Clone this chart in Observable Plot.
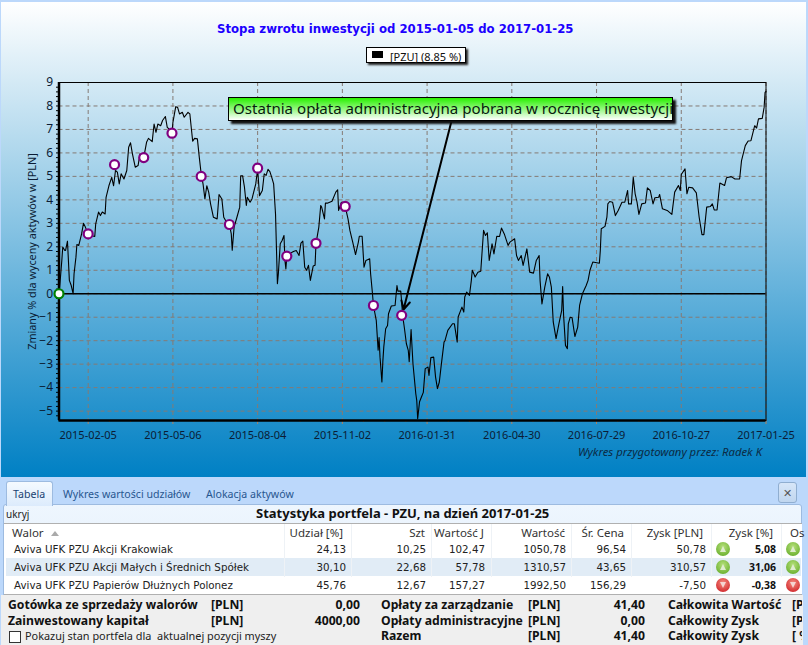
<!DOCTYPE html>
<html lang="pl">
<head>
<meta charset="utf-8">
<script src="https://cdn.jsdelivr.net/npm/d3@7"></script>
<script src="https://cdn.jsdelivr.net/npm/@observablehq/plot@0.6"></script>
<style>
html,body{margin:0;padding:0;width:808px;height:645px;overflow:hidden;background:#bcd8fb;}
#page{position:relative;width:808px;height:645px;overflow:hidden;font-family:"Noto Sans",sans-serif;}
#chart{position:absolute;left:1px;top:2px;width:805px;height:475px;overflow:hidden;background:linear-gradient(#ffffff 0,#0080c4 100%);}
#plotHost{position:absolute;left:-1px;top:-2px;width:808px;height:477px;}
#plotHost svg{display:block;background:transparent;overflow:visible;}
.t{position:absolute;white-space:pre;line-height:1;transform:translateY(-50%);z-index:3;}
.r{transform:translate(-100%,-50%);}
.box{position:absolute;box-sizing:border-box;}
</style>
</head>
<body>
<div id="page">
  <div id="chart"><div id="plotHost"></div></div>
</div>
<script>
// ---- chart data ----
const startDate = "2015-01-05";
const titleText = "Stopa zwrotu inwestycji od 2015-01-05 do 2017-01-25";
const legendText = "[PZU] (8.85 %)";
const yLabel = "Zmiany % dla wyceny aktywów w [PLN]";
const noteText = "Ostatnia opłata administracyjna pobrana w rocznicę inwestycji";
const creditText = "Wykres przygotowany przez: Radek K";
const xTickDates = ["2015-02-05","2015-05-06","2015-08-04","2015-11-02","2016-01-31","2016-04-30","2016-07-29","2016-10-27","2017-01-25"];
const yTicks = [-5,-4,-3,-2,-1,0,1,2,3,4,5,6,7,8,9];
// days since start date
const days = [0,1,3,4,6,7,9,10,11,13,15,16,18,19,21,24,26,28,31,34,38,39,42,44,46,49,50,53,56,58,60,62,64,66,69,72,74,76,78,81,84,86,90,93,95,99,101,103,105,108,110,113,115,117,120,121,124,126,128,131,133,137,139,141,142,144,147,149,151,153,155,157,159,161,164,168,170,173,175,178,181,183,184,186,189,192,193,195,197,199,200,203,205,209,211,213,216,218,220,222,
224,226,228,230,232,233,235,237,239,240,241,242,244,246,249,252,255,257,259,261,263,265,267,270,272,273,276,278,279,282,283,285,290,294,296,297,300,302,304,307,309,312,315,318,319,322,324,326,330,331,333,
334,337,339,340,341,343,344,345,347,349,350,353,357,359,360,363,364,365,
367,369,371,372,374,375,376,379,380,381,383,385,387,389,392,393,395,398,400,402,404,406,409,410,413,418,420,423,424,428,430,431,433,436,438,
439,441,442,445,448,451,453,455,457,460,462,465,468,470,473,477,479,484,486,488,491,493,497,500,504,507,510,
511,513,516,519,521,523,525,528,531,534,535,536,538,540,541,543,545,548,551,553,556,560,562,
564,567,574,575,576,580,582,583,585,588,591,594,598,601,604,605,608,610,612,614,616,619,623,625,628,631,633,637,638,641,646,651,654,658,660,661,665,667,669,673,677,680,683,685,688,692,694,696,699,702,707,709,714,718,723,725,729,732,735,739,741,743,747,749,750,751];
const returns = [0,0.43,1.42,1.99,1.85,1.85,2.24,1.42,0.57,0.35,0,0.85,1.56,2.1,2.06,2.55,3.0,2.84,2.55,2.48,2.44,2.98,3.48,3.33,3.48,3.4,4.11,4.6,4.96,4.6,5.25,5.18,4.68,5.11,4.89,5.25,6.24,6.43,5.96,5.39,5.46,5.96,5.8,6.45,6.62,6.48,7.23,6.88,7.23,7.16,7.38,7.55,7.09,7.02,6.84,7.3,7.97,7.94,7.66,7.73,7.52,7.73,7.66,6.88,6.5,6.62,6.6,5.82,5.11,4.68,4.04,4.6,4.33,3.83,3.26,3.19,4.23,4.04,3.26,3.05,2.95,2.55,1.85,2.84,3.26,3.69,5.03,5.03,4.54,3.76,4.11,3.9,4.04,4.68,5.3,4.18,4.4,5.11,5.04,5.3,
5.2,4.96,4.68,3.4,0.43,0.85,2.13,2.27,2.48,1.42,1.06,1.6,1.56,1.73,1.8,1.84,1.63,2.16,2.24,1.13,1.0,1.21,0.57,1.18,1.21,2.15,2.84,3.76,3.69,3.19,3.86,3.86,3.94,4.33,4.43,3.55,3.9,3.72,3.72,3.19,2.7,2.2,1.67,2.2,2.45,2.45,1.13,1.42,1.49,0.85,0,
-0.5,-1.13,-2.41,-1.87,-2.7,-3.76,-2.88,-2.27,-1.49,-1.35,-0.85,-0.52,-0.5,0.35,0.11,0.11,-0.35,-0.92,
-1.49,-2.13,-2.41,-2.9,-1.53,-2.27,-2.98,-4.26,-4.54,-5.32,-4.6,-4.4,-4.2,-3.19,-3.12,-3.48,-2.72,-2.7,-3.55,-4.04,-3.76,-3.05,-2.06,-2.0,-1.56,-1.28,-1.28,-2.06,-0.99,-0.57,-0.78,-0.14,0.07,-0.07,0.57,
1.0,0.82,0.71,0.92,0.96,2.7,2.48,2.6,1.42,2.13,1.7,2.45,2.44,2.8,2.55,2.06,2.2,2.34,1.63,1.42,1.63,1.21,1.91,0.92,0.88,1.42,1.63,
0.57,-0.43,0.28,0.85,0.7,0.28,-1.2,-1.91,-1.28,-0.71,0.31,-0.92,-2.2,-2.34,-1.28,-1.0,-1.02,-1.82,-1.42,-0.5,0,0.35,0.57,
1.0,1.35,1.3,1.84,2.77,2.87,3.26,3.83,3.93,3.9,3.33,3.55,3.9,3.9,4.4,3.83,3.83,4.96,4.26,3.9,3.38,3.83,3.87,4.51,4.4,3.83,4.09,4.11,4.23,3.62,3.55,3.38,4.33,4.61,4.4,5.08,5.32,4.26,4.54,4.51,4.3,3.26,2.52,2.52,3.69,3.72,3.83,3.57,3.57,4.72,4.61,4.94,4.99,4.89,4.89,5.67,6.31,6.51,6.52,7.16,7.06,7.45,7.47,7.94,8.58,8.62];
const markerDays = [31,59,90,120,151,181,211,242,273,304,334,364];
const markerValues = [2.55,5.5,5.8,6.84,5.0,2.95,5.35,1.6,2.15,3.72,-0.5,-0.92];
const noteArrowDays = [417,366];
const noteArrowValues = [7.37,-0.67];

// ---- table data ----
const tabs = ["Tabela","Wykres wartości udziałów","Alokacja aktywów"];
const panelTitle = "Statystyka portfela - PZU, na dzień 2017-01-25";
const headers = ["Udział [%]","Szt","Wartość J","Wartość","Śr. Cena","Zysk [PLN]","Zysk [%]"];
const walory = ["Aviva UFK PZU Akcji Krakowiak","Aviva UFK PZU Akcji Małych i Średnich Spółek","Aviva UFK PZU Papierów Dłużnych Polonez"];
const udzial = ["24,13","30,10","45,76"];
const szt = ["10,25","22,68","12,67"];
const wartoscJ = ["102,47","57,78","157,27"];
const wartosc = ["1050,78","1310,57","1992,50"];
const srCena = ["96,54","43,65","156,29"];
const zyskPln = ["50,78","310,57","-7,50"];
const zyskPct = ["5,08","31,06","-0,38"];
const footA = [["Gotówka ze sprzedaży walorów","[PLN]","0,00"],["Zainwestowany kapitał","[PLN]","4000,00"]];
const footB = [["Opłaty za zarządzanie","[PLN]","41,40"],["Opłaty administracyjne","[PLN]","0,00"],["Razem","[PLN]","41,40"]];
const footC = [["Całkowita Wartość","[PLN]"],["Całkowity Zysk","[PLN]"],["Całkowity Zysk","[ %]"]];
const checkLabel = "Pokazuj stan portfela dla  aktualnej pozycji myszy";

// ---- plot ----
const d0 = d3.utcParse("%Y-%m-%d")(startDate);
const toDate = n => d3.utcDay.offset(d0, n);
const series = days.map((d,i)=>({date:toDate(d), value:returns[i]}));
const markers = markerDays.map((d,i)=>({date:toDate(d), value:markerValues[i]}));
const xDates = xTickDates.map(d3.utcParse("%Y-%m-%d"));
const minorX = [];
[d0].concat(xDates).forEach((d,i,a)=>{ if(i>1){ const s=+a[i-1], e=+d; [.25,.5,.75].forEach(f=>minorX.push(new Date(s+(e-s)*f))); }});
const gridC = "#857a74";
const chart = Plot.plot({
  width:808, height:477,
  marginLeft:58.5, marginRight:42.5, marginTop:82, marginBottom:57,
  style:{background:"transparent", fontFamily:'"Noto Sans",sans-serif', color:"#0b1c35"},
  x:{type:"utc", domain:[d0, toDate(751)]},
  y:{domain:[-5.4,9]},
  marks:[
    Plot.gridX(xDates,{stroke:gridC, strokeOpacity:1, strokeWidth:1, strokeDasharray:"4,3"}),
    Plot.gridY(yTicks,{stroke:gridC, strokeOpacity:1, strokeWidth:1, strokeDasharray:"4,3"}),
    Plot.axisX(minorX,{anchor:"bottom", tickSize:2, tickPadding:0, text:null, stroke:"#b5805a", label:null}),
    Plot.axisX(xDates,{anchor:"bottom", tickSize:4, tickPadding:7, fontSize:11, tickFormat:d3.utcFormat("%Y-%m-%d"), label:null, stroke:"#b5805a", fill:"#0b1c35"}),
    Plot.axisY(yTicks,{anchor:"left", tickSize:0, tickPadding:6, fontSize:12, label:null, fill:"#0b1c35"}),
    Plot.axisY(d3.range(-5.2,9,0.2),{anchor:"left", tickSize:2.5, tickPadding:0, text:null, stroke:"#000", label:null}),
    Plot.frame({stroke:"#000", strokeWidth:1}),
    Plot.ruleX([d0],{stroke:"#000", strokeWidth:2.5}),
    Plot.ruleY([-5.4],{stroke:"#000", strokeWidth:2.5}),
    Plot.ruleY([0],{stroke:"#000", strokeWidth:1.3}),
    Plot.line(series,{x:"date", y:"value", stroke:"#000", strokeWidth:1.1, curve:"linear"}),
    Plot.arrow([0],{x1:()=>toDate(noteArrowDays[0]), y1:()=>noteArrowValues[0], x2:()=>toDate(noteArrowDays[1]), y2:()=>noteArrowValues[1], stroke:"#000", strokeWidth:2, headLength:7, headAngle:55, bend:0}),
    Plot.dot(markers,{x:"date", y:"value", r:4.5, fill:"#fff", stroke:"#800080", strokeWidth:2.2}),
    Plot.dot([{date:d0,value:0}],{x:"date", y:"value", r:4.5, fill:"#fff", stroke:"#008000", strokeWidth:2.2}),
    Plot.text([yLabel],{frameAnchor:"left", textAnchor:"middle", dx:-26, rotate:-90, fontSize:10.8, fill:"#0b1c35", text:d=>d})
  ]
});
document.getElementById("plotHost").appendChild(chart);

// ---- HTML parts ----
const page = document.getElementById("page");
function T(x,y,s,o={}){const e=document.createElement("div");e.className="t"+(o.right?" r":"");e.textContent=s;e.style.left=x+"px";e.style.top=y+"px";
  e.style.fontSize=(o.size||11)+"px";e.style.color=o.color||"#111";if(o.bold)e.style.fontWeight="bold";if(o.font)e.style.fontFamily=o.font;if(o.italic)e.style.fontStyle="italic";if(o.ls)e.style.letterSpacing=o.ls+"px";(o.parent||page).appendChild(e);return e;}
function B(x,y,w,h,css){const e=document.createElement("div");e.className="box";e.style.cssText+=`left:${x}px;top:${y}px;width:${w}px;height:${h}px;`+css;page.appendChild(e);return e;}
const DJ='"DejaVu Sans",sans-serif', NS='"Noto Sans",sans-serif';
const footStyle={size:12.2,bold:true,font:NS,color:"#111"};
T(217,30,titleText,{size:11.7,bold:true,color:"#1c00ff",font:DJ});
B(366,47,100,16,"background:#fff;border:1px solid #000;box-shadow:2px 2px 2px #222;");
B(372,51,11,7,"background:#000;");
T(390,55.5,legendText,{size:11,color:"#111"});
B(228,97,445,23.5,"background:linear-gradient(#28f000,#fff);border:1px solid #000;box-shadow:3px 3px 2px #111;");
T(233,108.5,noteText,{size:15.1,color:"#0a1a10"});
T(762,452,creditText,{size:11.3,italic:true,right:true,color:"#0b2a44"});

// bottom panel
B(0,477,808,168,"background:#bcd8fb;");
B(6,481,47,25,"background:linear-gradient(#f5faff,#dcebfc);border:1px solid #9dbbe0;border-bottom:none;border-radius:3px 3px 0 0;z-index:2");
const tabX=[13,63,206];
tabs.forEach((t,i)=>T(tabX[i],494,t,{size:10.6,color:i?"#27568f":"#1a4272"}));
B(778,482,19,21,"background:linear-gradient(#d7e6f8,#c0d6ef);border:1px solid #90aed0;border-radius:3px;");
T(787.5,492.5,"✕",{size:11,right:false,color:"#555",font:DJ}).style.transform="translate(-50%,-50%)";
B(3,504,799,141,"background:linear-gradient(#eef6fe,#dce9f8);border:1px solid #9dbbe0;border-radius:3px 3px 0 0;");
T(6,514,"ukryj",{size:10,color:"#222"});
T(256,513,panelTitle,{size:13,bold:true,color:"#111",font:NS});
B(4,523,798,72,"background:#fff;border-top:1px solid #b0b0b0;border-bottom:1px solid #b0b0b0;");
B(6,558,795,18,"background:#e1ecf6;");
const sep=[284,351,431,491,571,631,711,781];
sep.forEach(x=>{B(x,524,1,53,"background:#eef2f6;");});
T(12,533,"Walor",{size:11.5,color:"#333"});
const headR=[343,425,484,565,624,703,773];
headers.forEach((h,i)=>T(headR[i],533,h,{size:11.5,right:true,color:"#333"}));
T(790,533,"Os",{size:11.5,color:"#333"});
B(51,530.5,0,0,"border-left:4px solid transparent;border-right:4px solid transparent;border-bottom:5px solid #aaa;");
const rowY=[549,567,585];
const cols=[[udzial,346],[szt,426],[wartoscJ,485],[wartosc,566],[srCena,626],[zyskPln,706]];
walory.forEach((w,i)=>{
  T(14,rowY[i],w,{size:10.3,color:"#222",font:DJ});
  cols.forEach(([a,x])=>T(x,rowY[i],a[i],{size:10.3,right:true,color:"#222",font:DJ}));
  T(776,rowY[i],zyskPct[i],{size:10.5,right:true,bold:true,color:"#111",font:NS});
  const up=zyskPct[i][0]!=="-";
  [723,793].forEach(cx=>{
    B(cx-7,rowY[i]-7,14,14,"border-radius:50%;background:radial-gradient(circle at 50% 35%,"+(up?"#b6e07c,#5aa51e":"#f58a80,#c9141a")+");");
    B(cx-3,rowY[i]-3,6,6,"width:0;height:0;"+(up?"border-left:3.5px solid transparent;border-right:3.5px solid transparent;border-bottom:6px solid #dfeccf;":"border-left:3.5px solid transparent;border-right:3.5px solid transparent;border-top:6px solid #f5d5d2;"));
  });
});
B(1,595,802,50,"background:#efefef;");
const fRow=[605,621,636];
footA.forEach((r,i)=>{T(8,fRow[i],r[0],footStyle);T(211,fRow[i],r[1],footStyle);T(360,fRow[i],r[2],{...footStyle,right:true});});
footB.forEach((r,i)=>{T(381,fRow[i],r[0],footStyle);T(528,fRow[i],r[1],footStyle);T(645,fRow[i],r[2],{...footStyle,right:true});});
const clip=B(660,596,142,49,"overflow:hidden;");
footC.forEach((r,i)=>{T(8,fRow[i]-596,r[0],{...footStyle,parent:clip});T(132,fRow[i]-596,r[1],{...footStyle,parent:clip});});
B(9,631,12,12,"background:#fff;border:1px solid #333;");
T(25,636,checkLabel,{size:10.9,color:"#222"});
</script>
</body>
</html>
